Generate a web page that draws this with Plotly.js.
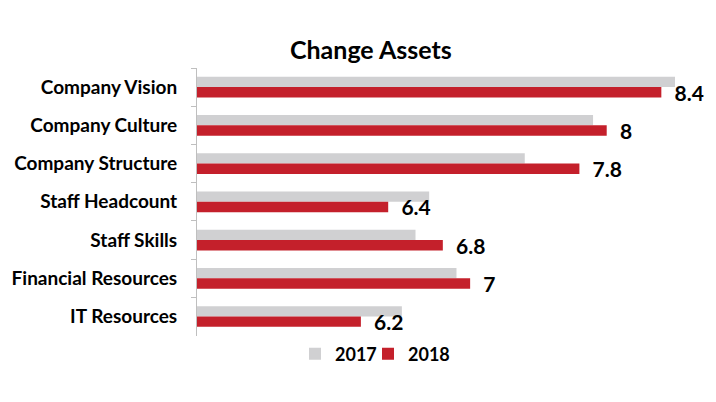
<!DOCTYPE html>
<html><head><meta charset="utf-8">
<script src="https://cdn.plot.ly/plotly-3.0.1.min.js"></script>
<style>html,body{margin:0;padding:0;background:#fff;}#chart{width:716px;height:402px;}</style>
</head><body><div id="chart"></div>
<script>
const categories = ["Company Vision","Company Culture","Company Structure","Staff Headcount","Staff Skills","Financial Resources","IT Resources"];
const values2017 = [8.5, 7.9, 7.4, 6.7, 6.6, 6.9, 6.5];
const values2018 = [8.4, 8, 7.8, 6.4, 6.8, 7, 6.2];
const seriesNames = ["2017","2018"];
const axisStart = 5;

const FONT = "Lato, 'Open Sans', sans-serif";
const data = [
  {type:'bar', orientation:'h', name:seriesNames[0], y:categories, x:values2017.map(v=>v-axisStart),
   base:axisStart, marker:{color:'#d0d0d2'}, hoverinfo:'skip', legend:'legend'},
  {type:'bar', orientation:'h', name:seriesNames[1], y:categories, x:values2018.map(v=>v-axisStart),
   base:axisStart, marker:{color:'#c4202b'}, text:values2018.map(v=>'\u00a0\u00a0'+v), textposition:'outside',
   constraintext:'none', cliponaxis:false, textfont:{family:FONT, size:21, color:'#000', weight:700}, hoverinfo:'skip', legend:'legend2'}
];
const legendBase = {orientation:'h', xref:'container', yref:'container', xanchor:'left', y:0.119, yanchor:'middle',
          bgcolor:'rgba(0,0,0,0)', itemwidth:30, font:{family:FONT, size:18, color:'#000', weight:700}};
const layout = {
  width:716, height:402,
  margin:{l:197, r:41, t:68, b:62},
  paper_bgcolor:'#fff', plot_bgcolor:'#fff',
  title:{text:'<b>Change Assets</b>', font:{family:FONT, size:25, color:'#000'}, x:0.518, xref:'container', y:0.875, yref:'container', yanchor:'middle'},
  barmode:'group', bargap:0.46, bargroupgap:0,
  xaxis:{range:[axisStart,8.5], showgrid:false, zeroline:false, showticklabels:false, showline:false, ticks:''},
  yaxis:{autorange:'reversed', type:'category', showgrid:false, zeroline:false, showline:true, linecolor:'#bfbfbf', linewidth:1,
         ticks:'outside', tickson:'boundaries', ticklen:5, tickcolor:'#bfbfbf', ticklabelstandoff:15,
         tickfont:{family:FONT, size:19, color:'#000', weight:700}},
  showlegend:true,
  legend:Object.assign({}, legendBase, {x:295/716}),
  legend2:Object.assign({}, legendBase, {x:368/716}),
  font:{family:FONT}
};
Plotly.newPlot('chart', data, layout, {displayModeBar:false, staticPlot:true});
</script></body></html>
